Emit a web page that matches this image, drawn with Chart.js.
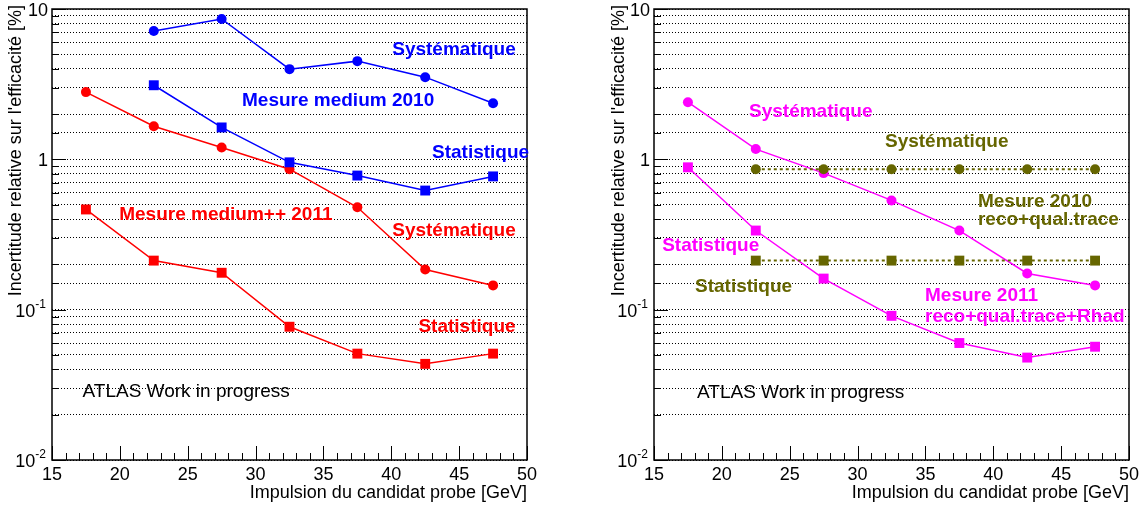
<!DOCTYPE html>
<html>
<head>
<meta charset="utf-8">
<script src="https://cdn.jsdelivr.net/npm/chart.js@4.4.0/dist/chart.umd.min.js"></script>
<style>
  html, body { margin: 0; padding: 0; background: #fff; }
  #wrap  { position: relative; width: 1146px; height: 507px; }
  .panel { position: absolute; top: 0; width: 573px; height: 507px; }
</style>
</head>
<body>
<div id="wrap">
  <div class="panel" style="left:0"><canvas id="cLeft" width="573" height="507"></canvas></div>
  <div class="panel" style="left:573px"><canvas id="cRight" width="573" height="507"></canvas></div>
</div>
<script>
'use strict';

// ── Data ───────────────────────────────────────────────────────
const PT_BINS   = [17.5, 22.5, 27.5, 32.5, 37.5, 42.5, 47.5];
const PT_BINS_2010 = [22.5, 27.5, 32.5, 37.5, 42.5, 47.5];

// left panel: medium 2010 vs medium++ 2011
const SYST_MEDIUM_2010   = [7.13, 8.58, 3.98, 4.5, 3.52, 2.36];
const STAT_MEDIUM_2010   = [3.11, 1.63, 0.955, 0.78, 0.62, 0.77];
const SYST_MEDIUMPP_2011 = [2.8, 1.66, 1.2, 0.86, 0.48, 0.185, 0.145];
const STAT_MEDIUMPP_2011 = [0.464, 0.212, 0.176, 0.077, 0.051, 0.0436, 0.051];

// right panel: reco+qual.trace 2010 vs reco+qual.trace+Rhad 2011
const SYST_TRACE_2010 = [0.86, 0.86, 0.86, 0.86, 0.86, 0.86];
const STAT_TRACE_2010 = [0.212, 0.212, 0.212, 0.212, 0.212, 0.212];
const SYST_RHAD_2011  = [2.4, 1.17, 0.81, 0.533, 0.336, 0.174, 0.145];
const STAT_RHAD_2011  = [0.885, 0.336, 0.161, 0.091, 0.06, 0.048, 0.0567];

const X_MIN = 15;
const X_MAX = 50;
const Y_MIN = 0.01;
const Y_MAX = 10;
const Y_DECADE_LABELS = [['10', '-2'], ['10', '-1'], ['1', ''], ['10', '']];

const X_TITLE   = 'Impulsion du candidat probe [GeV]';
const Y_TITLE   = "Incertitude relative sur l'efficacité [%]";
const WATERMARK = 'ATLAS Work in progress';

// ── Style ──────────────────────────────────────────────────────
const FONT  = '"Liberation Sans", Arial, Helvetica, sans-serif';
const BLUE  = '#0000ff';
const RED   = '#ff0000';
const MAG   = '#ff00ff';
const OLIVE = '#666600';

Chart.defaults.font.family = FONT;
Chart.defaults.color       = '#000';
Chart.defaults.animation   = false;

// annotations, placed in data coordinates [text, x, y, colour]
const LEFT_NOTES = [
  ['Systématique',         40.07, 5.33,  BLUE],
  ['Mesure medium 2010',   29.0,  2.47,  BLUE],
  ['Statistique',          43.0,  1.1,   BLUE],
  ['Mesure medium++ 2011', 19.95, 0.43,  RED],
  ['Systématique',         40.07, 0.336, RED],
  ['Statistique',          42.0,  0.077, RED],
];
const RIGHT_NOTES = [
  ['Systématique',          22.0,  2.06,   MAG],
  ['Systématique',          32.02, 1.30,   OLIVE],
  ['Mesure 2010',           38.87, 0.525,  OLIVE],
  ['reco+qual.trace',       38.87, 0.398,  OLIVE],
  ['Statistique',           15.6,  0.267,  MAG],
  ['Statistique',           18.02, 0.142,  OLIVE],
  ['Mesure 2011',           34.97, 0.124,  MAG],
  ['reco+qual.trace+Rhad',  34.97, 0.0898, MAG],
];

// ── Helpers ────────────────────────────────────────────────────
function series(label, xs, ys, color, shape, extra = {}) {
  return {
    label,
    data:            xs.map((x, i) => ({ x, y: ys[i] })),
    borderColor:     color,
    backgroundColor: color,
    borderWidth:     1.5,
    tension:         0,
    fill:            false,
    pointStyle:      shape,
    pointRadius:     shape === 'rect' ? 7 : 5,
    pointBorderWidth: 0,
    ...extra,
  };
}

function isDecade(v) {
  const l = Math.log10(v);
  return Math.abs(l - Math.round(l)) < 1e-6;
}

// ROOT-like frame, inner ticks, superscript labels, titles and notes
const rootStyle = {
  id: 'rootStyle',
  afterDraw(chart, args, opts) {
    const { ctx, chartArea: a, scales: { x, y } } = chart;
    ctx.save();

    // inner tick marks
    ctx.strokeStyle = '#000';
    ctx.lineWidth = 1;
    ctx.beginPath();
    for (let v = X_MIN; v <= X_MAX; v++) {
      const px = Math.round(x.getPixelForValue(v)) + 0.5;
      const len = v % 5 === 0 ? 14 : 7;
      ctx.moveTo(px, a.bottom);
      ctx.lineTo(px, a.bottom - len);
    }
    y.ticks.forEach(t => {
      const py = Math.round(y.getPixelForValue(t.value)) + 0.5;
      const len = isDecade(t.value) ? 14 : 7;
      ctx.moveTo(a.left, py);
      ctx.lineTo(a.left + len, py);
    });
    ctx.stroke();

    // frame
    ctx.lineWidth = 1.5;
    ctx.strokeRect(a.left, a.top, a.right - a.left, a.bottom - a.top);

    // y decade labels with superscript
    ctx.fillStyle = '#000';
    ctx.textBaseline = 'middle';
    ctx.textAlign = 'right';
    [Y_MIN, 0.1, 1, Y_MAX].forEach((v, i) => {
      const [base, exp] = Y_DECADE_LABELS[i];
      const py = y.getPixelForValue(v) + 2;
      let right = a.left - 4;
      if (exp) {
        right = a.left - 6;
        ctx.font = `12px ${FONT}`;
        ctx.fillText(exp, right, py - 7);
        right -= ctx.measureText(exp).width;
      }
      ctx.font = `18px ${FONT}`;
      ctx.fillText(base, right, py);
    });

    // axis titles
    ctx.font = `18px ${FONT}`;
    ctx.textAlign = 'right';
    ctx.fillText(X_TITLE, a.right, 493);
    ctx.save();
    ctx.translate(a.left - opts.yTitleOffset, a.top - 4);
    ctx.rotate(-Math.PI / 2);
    ctx.fillText(Y_TITLE, 0, 0);
    ctx.restore();

    // annotations
    ctx.textAlign = 'left';
    ctx.font = `bold 19px ${FONT}`;
    opts.notes.forEach(([text, nx, ny, color]) => {
      ctx.fillStyle = color;
      ctx.fillText(text, x.getPixelForValue(nx), y.getPixelForValue(ny));
    });
    ctx.fillStyle = '#000';
    ctx.font = `19px ${FONT}`;
    ctx.fillText(WATERMARK, x.getPixelForValue(opts.watermark[0]), y.getPixelForValue(opts.watermark[1]));

    ctx.restore();
  },
};

function panelOptions(yWidth, padRight, notes, watermark, yTitleOffset) {
  return {
    responsive: false,
    events: [],
    layout: { padding: { left: 0, top: 9, right: padRight, bottom: 0 } },
    plugins: {
      legend:  { display: false },
      tooltip: { enabled: false },
      rootStyle: { notes, watermark, yTitleOffset },
    },
    scales: {
      x: {
        type: 'linear',
        min: X_MIN,
        max: X_MAX,
        grid:   { display: false },
        border: { display: false },
        ticks: {
          stepSize: 5,
          autoSkip: false,
          maxRotation: 0,
          padding: -4,
          color: '#000',
          font: { size: 18 },
        },
        afterFit: s => { s.height = 47; },
      },
      y: {
        type: 'logarithmic',
        min: Y_MIN,
        max: Y_MAX,
        ticks:  { display: false, autoSkip: false },
        grid:   { color: '#000', lineWidth: 1, drawTicks: false, tickLength: 0, borderDash: [1, 2] },
        border: { display: false, dash: [1, 2] },
        afterFit: s => { s.width = yWidth; },
      },
    },
  };
}

// ── Left panel ─────────────────────────────────────────────────
new Chart(document.getElementById('cLeft'), {
  type: 'line',
  data: {
    datasets: [
      series('Syst 2010', PT_BINS_2010, SYST_MEDIUM_2010, BLUE, 'circle'),
      series('Stat 2010', PT_BINS_2010, STAT_MEDIUM_2010, BLUE, 'rect'),
      series('Syst 2011', PT_BINS, SYST_MEDIUMPP_2011, RED, 'circle'),
      series('Stat 2011', PT_BINS, STAT_MEDIUMPP_2011, RED, 'rect'),
    ],
  },
  options: panelOptions(52, 46, LEFT_NOTES, [17.25, 0.0284], 36),
  plugins: [rootStyle],
});

// ── Right panel ────────────────────────────────────────────────
new Chart(document.getElementById('cRight'), {
  type: 'line',
  data: {
    datasets: [
      series('Syst 2010', PT_BINS_2010, SYST_TRACE_2010, OLIVE, 'circle', { borderWidth: 2, borderDash: [3, 3] }),
      series('Stat 2010', PT_BINS_2010, STAT_TRACE_2010, OLIVE, 'rect',   { borderWidth: 2, borderDash: [3, 3] }),
      series('Syst 2011', PT_BINS, SYST_RHAD_2011, MAG, 'circle'),
      series('Stat 2011', PT_BINS, STAT_RHAD_2011, MAG, 'rect'),
    ],
  },
  options: panelOptions(81, 17, RIGHT_NOTES, [18.17, 0.028], 35),
  plugins: [rootStyle],
});
</script>
</body>
</html>
